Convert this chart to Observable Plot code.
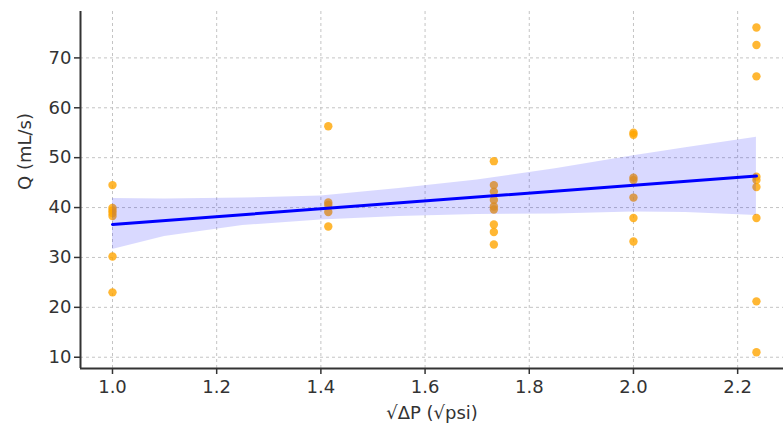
<!DOCTYPE html>
<html>
<head>
<meta charset="utf-8">
<script src="https://cdn.jsdelivr.net/npm/d3@7"></script>
<script src="https://cdn.jsdelivr.net/npm/@observablehq/plot@0.6"></script>
<style>
  html, body { margin: 0; padding: 0; background: #fff; }
  svg { display: block; }
</style>
</head>
<body>
<div id="chart"></div>
<script>
// sqrt(ΔP) groups and observed flow rates Q (mL/s)
const groupX = [1, Math.SQRT2, Math.sqrt(3), 2, Math.sqrt(5)];
const groupQ = [
  [44.5, 39.9, 39.4, 38.9, 38.3, 30.2, 23.0],
  [56.3, 41.0, 40.5, 39.1, 36.2],
  [49.3, 44.5, 43.2, 41.5, 40.2, 39.6, 36.6, 35.1, 32.6],
  [55.0, 54.6, 46.0, 45.5, 42.0, 37.9, 33.2],
  [76.1, 72.6, 66.3, 46.2, 45.5, 44.1, 37.9, 21.2, 11.0]
];
// confidence band of the fit
const bandX    = [1.0, 1.1, 1.25, 1.4, 1.55, 1.7, 1.85, 2.0, 2.1, Math.sqrt(5)];
const bandLow  = [31.6, 34.2, 36.4, 37.5, 38.2, 38.6, 38.7, 39.1, 39.0, 38.4];
const bandHigh = [41.8, 41.7, 41.9, 42.3, 43.8, 45.5, 47.8, 50.4, 52.0, 54.1];

const xTicks = [1.0, 1.2, 1.4, 1.6, 1.8, 2.0, 2.2];
const yTicks = [10, 20, 30, 40, 50, 60, 70];
const xLabel = "√ΔP (√psi)";
const yLabel = "Q (mL/s)";

const data = groupX.flatMap((x, i) => groupQ[i].map(q => ({x, q})));
const band = bandX.map((x, i) => ({x, lo: bandLow[i], hi: bandHigh[i]}));

const xDomain = [0.9386, 2.288];
const yDomain = [7.74, 79.3];
const font = "DejaVu Sans, sans-serif";

const chart = Plot.plot({
  width: 783,
  height: 425,
  marginLeft: 80,
  marginRight: 0,
  marginTop: 11,
  marginBottom: 57,
  style: {fontFamily: font, fontSize: "18px", color: "#333", background: "#fff"},
  x: {domain: xDomain},
  y: {domain: yDomain},
  marks: [
    Plot.gridX(xTicks, {stroke: "#c4c4c4", strokeOpacity: 1, strokeDasharray: "3,3", strokeWidth: 1}),
    Plot.gridY(yTicks, {stroke: "#c4c4c4", strokeOpacity: 1, strokeDasharray: "3,3", strokeWidth: 1}),
    Plot.dot(data, {x: "x", y: "q", r: 4.2, fill: "orange", fillOpacity: 0.8, stroke: "none"}),
    Plot.areaY(band, {x: "x", y1: "lo", y2: "hi", fill: "blue", fillOpacity: 0.15}),
    Plot.linearRegressionY(data, {x: "x", y: "q", ci: 0, stroke: "blue", strokeWidth: 3}),
    Plot.axisX(xTicks, {tickFormat: d3.format(".1f"), tickSize: 6, tickPadding: 6, stroke: "#333", strokeWidth: 1.5, fontSize: 18, fill: "#333", label: null}),
    Plot.axisY(yTicks, {tickSize: 6, tickPadding: 3, stroke: "#333", strokeWidth: 1.5, fontSize: 18, fill: "#333", label: null}),
    Plot.ruleX([xDomain[0]], {stroke: "#333", strokeWidth: 2}),
    Plot.ruleY([yDomain[0]], {stroke: "#333", strokeWidth: 2}),
    Plot.text([xLabel], {frameAnchor: "bottom", dy: 50, fontSize: 18, fill: "#333"}),
    Plot.text([yLabel], {frameAnchor: "left", dx: -55, rotate: -90, fontSize: 18, fill: "#333"})
  ]
});
document.getElementById("chart").append(chart);
</script>
</body>
</html>
